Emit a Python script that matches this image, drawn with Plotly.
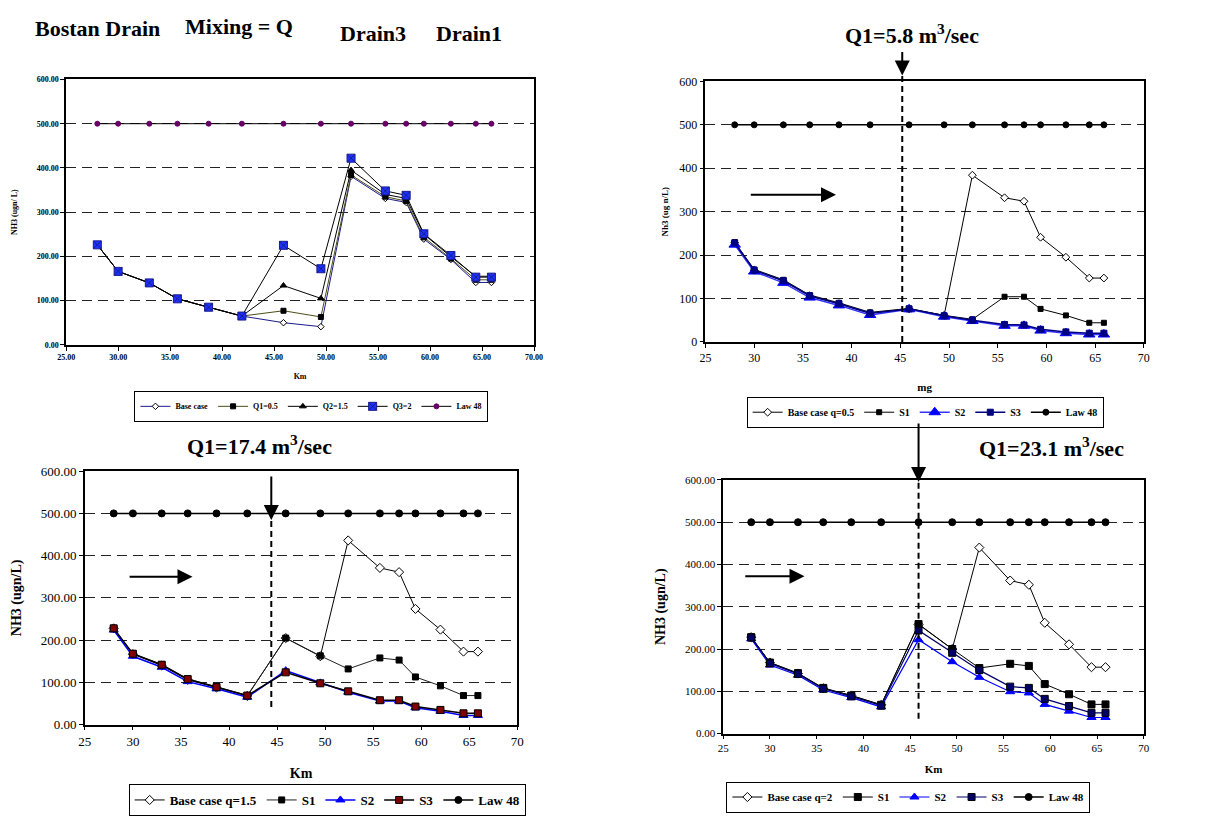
import plotly.graph_objects as go

# ---------------- data ----------------
km = [28, 30, 33, 35.7, 38.7, 41.9, 45.9, 49.5, 52.4, 55.7, 57.7, 59.4, 62, 64.4, 65.9]
law48 = [500, 500, 500, 500, 500, 500, 500, 500, 500, 500, 500, 500, 500, 500, 500]

# Panel 1 : Bostan Drain, mixing = Q
p1_base = [226, 166, 140, 104, 85, 65, 50, 41, 381, 331, 322, 239, 193, 141, 141]
p1_q1 = [226, 166, 140, 104, 85, 65, 77, 63, 384, 335, 325, 243, 195, 147, 147]
p1_q2 = [226, 166, 140, 104, 85, 65, 134, 105, 395, 340, 331, 250, 199, 155, 155]
p1_q3 = [226, 166, 140, 104, 85, 65, 225, 172, 422, 348, 338, 251, 202, 153, 153]

# Panel 2 : Q1 = 5.8
p2_base = [228, 165, 140, 106, 88, 66, 76, 61, 384, 332, 324, 241, 195, 147, 147]
p2_s1 = [230, 167, 143, 108, 90, 68, 77, 61, 52, 104, 104, 76, 61, 44, 44]
p2_s2 = [224, 162, 136, 102, 84, 62, 75, 58, 48, 37, 37, 26, 20, 17, 17]
p2_s3 = [228, 165, 141, 106, 88, 66, 76, 60, 50, 40, 39, 29, 23, 20, 20]

# Panel 3 : Q1 = 17.4
p3_base = [228, 167, 140, 106, 88, 68, 205, 162, 436, 371, 361, 274, 225, 173, 173]
p3_s1 = [228, 168, 142, 108, 90, 69, 205, 163, 132, 158, 153, 113, 92, 69, 69]
p3_s2 = [224, 162, 136, 102, 85, 65, 128, 99, 77, 56, 56, 40, 32, 22, 22]
p3_s3 = [228, 168, 142, 108, 89, 69, 124, 98, 79, 58, 58, 43, 35, 27, 27]

# Panel 4 : Q1 = 23.1
p4_base = [228, 168, 142, 107, 90, 68, 258, 200, 440, 362, 352, 262, 211, 157, 157]
p4_s1 = [228, 168, 143, 108, 90, 68, 259, 200, 155, 165, 160, 117, 93, 69, 69]
p4_s2 = [224, 162, 138, 103, 85, 63, 222, 170, 133, 99, 96, 69, 53, 38, 38]
p4_s3 = [227, 166, 141, 106, 88, 66, 244, 191, 150, 111, 108, 82, 65, 49, 49]

W, H = 1208, 816
SERIF = "Liberation Serif"

def px_x(p):
    return p / W

def px_y(p):
    return 1 - p / H

fig = go.Figure()

def add(x, y, name, xa, ya, legend, sym, mcolor, mline, msize, lcolor, lwidth=1):
    fig.add_trace(go.Scatter(
        x=x, y=y, name=name, mode="lines+markers", xaxis=xa, yaxis=ya, legend=legend,
        marker=dict(symbol=sym, color=mcolor, size=msize, line=dict(color=mline, width=1)),
        line=dict(color=lcolor, width=lwidth),
    ))

# Panel 1
add(km, p1_base, "Base case", "x", "y", "legend", "diamond", "white", "black", 5, "#1a1a8c")
add(km, p1_q1, "Q1=0.5", "x", "y", "legend", "square", "black", "black", 5, "#4d4d1a")
add(km, p1_q2, "Q2=1.5", "x", "y", "legend", "triangle-up", "black", "black", 6, "black")
add(km, p1_q3, "Q3=2", "x", "y", "legend", "square-x", "#1a33ff", "#1a1a8c", 8, "black")
add(km, law48, "Law 48", "x", "y", "legend", "circle", "#660066", "#660066", 5, "black")

# Panel 2
add(km, p2_base, "Base case q=0.5", "x2", "y2", "legend2", "diamond", "white", "black", 6, "black")
add(km, p2_s1, "S1", "x2", "y2", "legend2", "square", "black", "black", 5, "black")
add(km, p2_s2, "S2", "x2", "y2", "legend2", "triangle-up", "#0000ff", "#0000ff", 10, "#3333ff", 1.5)
add(km, p2_s3, "S3", "x2", "y2", "legend2", "square", "#000080", "#000080", 6, "#000080", 1.5)
add(km, law48, "Law 48", "x2", "y2", "legend2", "circle", "black", "black", 6, "black", 1.5)

# Panel 3
add(km, p3_base, "Base case q=1.5", "x3", "y3", "legend3", "diamond", "white", "black", 7, "black")
add(km, p3_s1, "S1", "x3", "y3", "legend3", "square", "black", "black", 6, "#222222")
add(km, p3_s2, "S2", "x3", "y3", "legend3", "triangle-up", "#0000ff", "#0000ff", 8, "#0000ff", 1.5)
add(km, p3_s3, "S3", "x3", "y3", "legend3", "square", "#800000", "black", 7, "black", 1.5)
add(km, law48, "Law 48", "x3", "y3", "legend3", "circle", "black", "black", 7, "black", 1.5)

# Panel 4
add(km, p4_base, "Base case q=2", "x4", "y4", "legend4", "diamond", "white", "black", 7, "black")
add(km, p4_s1, "S1", "x4", "y4", "legend4", "square", "black", "black", 7, "black")
add(km, p4_s2, "S2", "x4", "y4", "legend4", "triangle-up", "#0000ff", "#0000ff", 8, "#0000ff", 1.2)
add(km, p4_s3, "S3", "x4", "y4", "legend4", "square", "#000066", "black", 7, "#000066", 1.2)
add(km, law48, "Law 48", "x4", "y4", "legend4", "circle", "black", "black", 7, "black", 1.5)

# ---------------- axes ----------------
def xax(dom, anchor, size, bold, fmt, title, tsize, standoff):
    return dict(domain=dom, anchor=anchor, range=[25, 70], dtick=5, tickformat=fmt,
                showline=True, linecolor="black", linewidth=1.5, mirror=True,
                ticks="outside", ticklen=4, tickcolor="black", showgrid=False, zeroline=False,
                tickfont=dict(family=SERIF, size=size, color="black", weight="bold" if bold else "normal"),
                title=dict(text=title, standoff=standoff,
                           font=dict(family=SERIF, size=tsize, color="black", weight="bold")))

def yax(dom, anchor, size, bold, fmt, title, tsize, standoff):
    return dict(domain=dom, anchor=anchor, range=[0, 600], dtick=100, tickformat=fmt,
                showline=True, linecolor="black", linewidth=1.5, mirror=True,
                ticks="outside", ticklen=4, tickcolor="black", zeroline=False,
                showgrid=True, gridcolor="#222222", gridwidth=1, griddash="10px,6px",
                tickfont=dict(family=SERIF, size=size, color="black", weight="bold" if bold else "normal"),
                title=dict(text=title, standoff=standoff,
                           font=dict(family=SERIF, size=tsize, color="black", weight="bold")))

d1x = [px_x(58), px_x(533)]; d1y = [px_y(345), px_y(74)]
d2x = [px_x(707), px_x(1152)]; d2y = [px_y(342), px_y(76)]
d3x = [px_x(77), px_x(516)]; d3y = [px_y(733), px_y(474)]
d4x = [px_x(725), px_x(1152)]; d4y = [px_y(742), px_y(483)]

fig.update_layout(
    width=W, height=H, margin=dict(l=0, r=0, t=0, b=0),
    paper_bgcolor="white", plot_bgcolor="white",
    font=dict(family=SERIF),
    xaxis=xax(d1x, "y", 8, True, ".2f", "Km", 8, 12),
    yaxis=yax(d1y, "x", 8, True, ".2f", "NH3 (ugn/ L)", 8, 18),
    xaxis2=xax(d2x, "y2", 12, False, "d", "mg", 11, 19),
    yaxis2=yax(d2y, "x2", 12, False, "d", "Nh3 (ug n/L)", 9, 9),
    xaxis3=xax(d3x, "y3", 13, False, "d", "Km", 14, 20),
    yaxis3=yax(d3y, "x3", 13, False, ".2f", "NH3 (ugn/L)", 14, 16),
    xaxis4=xax(d4x, "y4", 11, False, "d", "Km", 11, 12),
    yaxis4=yax(d4y, "x4", 11, False, ".2f", "NH3 (ugn/L)", 14, 16),
    showlegend=True,
)

def leg(xc, ytop, size):
    return dict(orientation="h", x=xc, y=ytop, xanchor="center", yanchor="top",
                bordercolor="black", borderwidth=1, bgcolor="white",
                font=dict(family=SERIF, size=size, color="black", weight="bold"),
                itemwidth=30, tracegroupgap=0)

fig.update_layout(
    legend=leg(px_x(307), px_y(392), 8),
    legend2=leg(px_x(930), px_y(398), 10),
    legend3=leg(px_x(323), px_y(794), 13),
    legend4=leg(px_x(913), px_y(791), 11),
)

# ---------------- annotations ----------------
ann = []
tfont = dict(family=SERIF, size=22, color="black", weight="bold")
for txt, xp, yp in [("Bostan Drain", 24, 22), ("Mixing = Q", 177, 20), ("Drain3", 334, 27), ("Drain1", 431, 27)]:
    ann.append(dict(text=txt, x=px_x(xp), y=px_y(yp), xref="paper", yref="paper",
                    xanchor="left", yanchor="middle", showarrow=False, font=tfont))
ann.append(dict(text="Q1=5.8 m<sup>3</sup>/sec", x=px_x(917), y=px_y(28), xref="paper", yref="paper",
                xanchor="center", yanchor="middle", showarrow=False, font=tfont))
ann.append(dict(text="Q1=17.4 m<sup>3</sup>/sec", x=px_x(254), y=px_y(447), xref="paper", yref="paper",
                xanchor="center", yanchor="middle", showarrow=False, font=tfont))
ann.append(dict(text="Q1=23.1 m<sup>3</sup>/sec", x=px_x(1058), y=px_y(449), xref="paper", yref="paper",
                xanchor="center", yanchor="middle", showarrow=False, font=tfont))

# horizontal flow arrows
for xa, ya, x0, x1, yv in [("x2", "y2", 29.5, 38.4, 339), ("x3", "y3", 29.5, 36.2, 350),
                           ("x4", "y4", 27.2, 33.7, 372)]:
    ann.append(dict(x=x1, y=yv, ax=x0, ay=yv, xref=xa, yref=ya, axref=xa, ayref=ya, text="",
                    showarrow=True, arrowhead=2, arrowsize=1.5, arrowwidth=2, arrowcolor="black"))

# downward inflow arrows
for xa, xv, ytip, ytail in [("x2", 45.2, 70, 45), ("x3", 44.4, 524, 479), ("x4", 45.9, 485, 425)]:
    ann.append(dict(x=xv, y=px_y(ytip), xref=xa, yref="paper", ax=0, ay=-(ytip - ytail), text="",
                    showarrow=True, arrowhead=2, arrowsize=1.5, arrowwidth=2, arrowcolor="black"))

fig.update_layout(annotations=ann)

shapes = []
for xa, xv, y0, y1 in [("x2", 45.2, 342, 70), ("x3", 44.4, 715, 524), ("x4", 45.9, 727, 485)]:
    shapes.append(dict(type="line", xref=xa, yref="paper", x0=xv, x1=xv, y0=px_y(y0), y1=px_y(y1),
                       line=dict(color="black", width=2, dash="6px,4px")))
fig.update_layout(shapes=shapes)

fig.write_html("out.html")
